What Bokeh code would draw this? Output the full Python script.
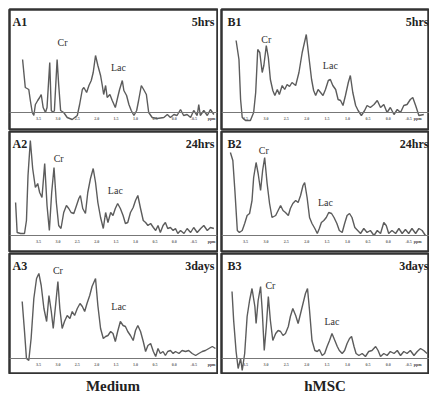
from bokeh.plotting import figure
from bokeh.layouts import column, row
from bokeh.models import Range1d, Label, Span
from bokeh.core.properties import value
from bokeh.embed import file_html
from bokeh.resources import INLINE

SERIF = "Liberation Serif"

# ---- axis ticks (chemical shift, ppm) ----
tick_values = [3.5, 3.0, 2.5, 2.0, 1.5, 1.0, 0.5, 0.0, -0.5]
tick_labels = ["3.5", "3.0", "2.5", "2.0", "1.5", "1.0", "0.5", "0.0", "-0.5"]
unit_label = "ppm"

panel_ids = ["A1", "B1", "A2", "B2", "A3", "B3"]
time_labels = ["5hrs", "5hrs", "24hrs", "24hrs", "3days", "3days"]
group_labels = ["Medium", "hMSC"]

# ---- spectra (ppm, amplitude) ----
a1_ppm = [3.91, 3.84, 3.75, 3.71, 3.66, 3.62, 3.58, 3.52, 3.47, 3.43, 3.38, 3.32, 3.28, 3.21, 3.17,
          3.12, 3.09, 3.02, 2.98, 2.93, 2.85, 2.76, 2.63, 2.50, 2.44, 2.37, 2.33, 2.26, 2.20, 2.14,
          2.09, 2.03, 1.97, 1.90, 1.86, 1.82, 1.77, 1.73, 1.66, 1.60, 1.52, 1.46, 1.41, 1.34, 1.30,
          1.23, 1.17, 1.11, 1.04, 0.97, 0.92, 0.85, 0.79, 0.72, 0.66, 0.57, 0.44, 0.27, 0.18, 0.10,
          0.01, -0.07, -0.16, -0.24, -0.33, -0.42, -0.50, -0.59, -0.63, -0.67, -0.76, -0.85, -0.93, -1.02]
a1_amp = [53, 25, 23, 12, 0, -3, 8, 12, 15, 18, 5, 0, 5, 50, 2,
          0, 2, 53, 28, 2, 0, -5, -7, -3, 8, 23, 25, 20, 27, 32,
          40, 57, 47, 37, 28, 18, 27, 15, 18, 12, 5, 15, 23, 32, 22,
          17, 8, 2, -3, 2, 12, 27, 23, 18, 0, -5, -6, -5, -2, -5,
          -2, -3, 3, -3, -2, -5, 2, -3, 8, -3, 2, -3, 3, -2]

b1_ppm = [3.73, 3.66, 3.62, 3.58, 3.50, 3.38, 3.30, 3.25, 3.20, 3.15, 3.09, 3.05, 2.99, 2.94, 2.89,
          2.83, 2.78, 2.72, 2.67, 2.60, 2.54, 2.48, 2.42, 2.36, 2.27, 2.19, 2.11, 2.01, 1.95, 1.88,
          1.83, 1.78, 1.72, 1.66, 1.60, 1.54, 1.47, 1.42, 1.36, 1.29, 1.23, 1.17, 1.11, 1.05, 0.98,
          0.93, 0.87, 0.80, 0.74, 0.66, 0.58, 0.52, 0.44, 0.35, 0.27, 0.19, 0.11, 0.03, -0.05, -0.14,
          -0.22, -0.30, -0.38, -0.46, -0.54, -0.60, -0.67, -0.75, -0.87]
b1_amp = [72, 53, 13, -5, -8, -8, 0, 20, 63, 60, 40, 47, 67, 55, 33,
          22, 17, 23, 18, 27, 23, 28, 26, 30, 27, 40, 60, 78, 57, 33,
          22, 17, 23, 20, 17, 23, 32, 33, 27, 23, 13, 12, 7, 17, 30,
          37, 20, 7, 2, -3, 2, 7, 5, 8, 12, 5, 8, 0, 5, -2,
          3, 0, 7, 8, 13, 15, 7, -3, -2]

a2_ppm = [4.09, 4.05, 3.96, 3.86, 3.81, 3.77, 3.71, 3.65, 3.58, 3.52, 3.47, 3.41, 3.34, 3.28, 3.22,
          3.16, 3.10, 3.04, 2.98, 2.92, 2.85, 2.78, 2.72, 2.66, 2.59, 2.52, 2.46, 2.42, 2.36, 2.29,
          2.23, 2.16, 2.09, 2.03, 1.97, 1.90, 1.83, 1.77, 1.71, 1.64, 1.58, 1.52, 1.46, 1.39, 1.32,
          1.26, 1.20, 1.13, 1.06, 1.00, 0.94, 0.87, 0.80, 0.74, 0.68, 0.61, 0.54, 0.48, 0.42, 0.36,
          0.29, 0.23, 0.17, 0.10, 0.03, -0.03, -0.09, -0.16, -0.25, -0.33, -0.42, -0.50, -0.59, -0.68,
          -0.76, -0.85, -0.93, -1.02]
a2_amp = [33, 3, 2, 2, 15, 60, 95, 67, 48, 52, 43, 38, 72, 30, 5,
          43, 68, 33, 10, 7, 23, 30, 27, 23, 22, 30, 37, 40, 27, 22,
          43, 57, 67, 53, 33, 18, 7, 23, 13, 23, 20, 27, 32, 27, 20,
          12, 13, 23, 28, 35, 40, 27, 15, 13, 10, 12, 8, 5, 10, 3,
          10, 13, 7, 8, 5, 7, 2, 5, 2, 7, 3, 8, 3, 7,
          10, 5, 8, 7]

b2_ppm = [3.87, 3.81, 3.76, 3.70, 3.65, 3.58, 3.52, 3.46, 3.40, 3.34, 3.30, 3.24, 3.19, 3.13, 3.08,
          3.03, 2.97, 2.91, 2.85, 2.76, 2.70, 2.64, 2.58, 2.52, 2.45, 2.40, 2.34, 2.27, 2.21, 2.15,
          2.09, 2.05, 1.99, 1.93, 1.87, 1.80, 1.74, 1.69, 1.64, 1.58, 1.52, 1.46, 1.39, 1.33, 1.26,
          1.20, 1.13, 1.07, 1.01, 0.95, 0.89, 0.82, 0.75, 0.68, 0.60, 0.52, 0.44, 0.35, 0.27, 0.19,
          0.11, 0.05, -0.01, -0.09, -0.18, -0.26, -0.34, -0.42, -0.50, -0.58, -0.67, -0.75, -0.83, -0.91]
b2_amp = [83, 75, 45, 5, 3, 5, 12, 20, 22, 35, 58, 73, 62, 45, 65,
          78, 52, 32, 18, 20, 25, 30, 25, 23, 20, 27, 32, 35, 33, 40,
          50, 53, 38, 18, 12, 7, 2, 7, 13, 15, 18, 23, 22, 18, 12,
          5, 3, 12, 20, 22, 18, 8, 5, 2, 7, 3, 5, 0, 5, 2,
          13, 10, 2, 5, 2, 7, 2, 6, 2, 7, 2, 7, 5, 0]

a3_ppm = [3.92, 3.86, 3.81, 3.75, 3.69, 3.62, 3.55, 3.49, 3.43, 3.36, 3.29, 3.23, 3.17, 3.12, 3.06,
          3.00, 2.95, 2.89, 2.83, 2.76, 2.69, 2.63, 2.57, 2.50, 2.43, 2.37, 2.31, 2.25, 2.18, 2.12,
          2.03, 1.97, 1.90, 1.83, 1.77, 1.71, 1.64, 1.58, 1.52, 1.46, 1.39, 1.32, 1.26, 1.20, 1.13,
          1.06, 1.00, 0.94, 0.87, 0.80, 0.74, 0.68, 0.61, 0.54, 0.48, 0.42, 0.36, 0.29, 0.23, 0.17,
          0.10, 0.03, -0.03, -0.12, -0.20, -0.29, -0.37, -0.46, -0.55, -0.63, -0.72, -0.80, -0.89, -0.98, -1.06]
a3_amp = [57, 27, 0, -2, 20, 60, 80, 85, 73, 50, 37, 63, 47, 30, 53,
          77, 50, 30, 37, 43, 40, 47, 43, 50, 55, 52, 47, 55, 63, 72,
          80, 53, 30, 20, 22, 23, 27, 25, 17, 27, 37, 33, 32, 27, 23,
          18, 28, 33, 27, 17, 7, 13, 15, 7, 2, 10, 5, 7, 3, 7,
          8, 5, 7, 5, 8, 7, 8, 5, 3, 5, 7, 8, 10, 12, 10]

b3_ppm = [3.83, 3.79, 3.73, 3.68, 3.62, 3.58, 3.52, 3.46, 3.40, 3.34, 3.27, 3.24, 3.19, 3.13, 3.09,
          3.04, 2.99, 2.94, 2.89, 2.83, 2.76, 2.70, 2.64, 2.58, 2.52, 2.45, 2.40, 2.34, 2.27, 2.21,
          2.15, 2.09, 2.03, 1.98, 1.93, 1.87, 1.80, 1.74, 1.69, 1.62, 1.56, 1.50, 1.44, 1.38, 1.31,
          1.25, 1.20, 1.13, 1.07, 1.01, 0.95, 0.90, 0.84, 0.79, 0.72, 0.64, 0.56, 0.48, 0.40, 0.31,
          0.25, 0.19, 0.11, 0.03, -0.05, -0.14, -0.22, -0.30, -0.38, -0.46, -0.54, -0.63, -0.71, -0.79,
          -0.87, -0.95]
b3_amp = [67, 38, 7, -10, 0, -12, 5, 42, 58, 70, 52, 35, 58, 72, 48,
          8, 32, 62, 38, 18, 25, 28, 27, 23, 25, 32, 42, 50, 43, 35,
          45, 55, 65, 70, 48, 18, 8, 7, 9, 3, 5, 12, 18, 25, 18,
          12, 8, 5, 8, 15, 20, 22, 12, 5, 3, 5, 2, 7, 8, 12,
          8, 2, 5, 3, 7, 5, 8, 3, 7, 5, 8, 3, 7, 10,
          8, 5]

spectra = {
    "A1": (a1_ppm, a1_amp), "B1": (b1_ppm, b1_amp),
    "A2": (a2_ppm, a2_amp), "B2": (b2_ppm, b2_amp),
    "A3": (a3_ppm, a3_amp), "B3": (b3_ppm, b3_amp),
}

# peak annotation anchors (ppm, amplitude), order A1,B1,A2,B2,A3,B3
cr_x = [2.88, 2.99, 2.98, 3.05, 3.00, 2.89]
cr_y = [70, 73, 77, 85, 88, 73]
lac_x = [1.44, 1.42, 1.52, 1.54, 1.43, 1.38]
lac_y = [45, 47, 45, 33, 52, 37]

# ---- layout / style ----
col_x_ranges = [(4.247, -1.113), (4.088, -1.010)]
row_y_ranges = [(-17, 103), (-16, 104), (-15, 105)]
col_widths = [218, 211]
col_min_left = [9, 3]
col_min_right = [1, 0]
row_heights = [130, 122, 122]
row_min_top = [9, 1, 1]
caption_height = 25
ppm_label_x = [-0.96, -0.72]
id_x = [3, 6]
time_x = [205, 207]
BORDER = "#333333"
TRACE = "#5c5c5c"


def make_panel(r, c):
    idx = r * 2 + c
    pid = panel_ids[idx]
    ppm, amp = spectra[pid]
    p = figure(width=col_widths[c], height=row_heights[r],
               x_range=Range1d(*col_x_ranges[c]), y_range=Range1d(*row_y_ranges[r]),
               x_axis_location=None, y_axis_location=None,
               toolbar_location=None, output_backend="svg",
               min_border_left=col_min_left[c], min_border_right=col_min_right[c],
               min_border_top=row_min_top[r], min_border_bottom=1)
    p.grid.visible = False
    p.outline_line_color = BORDER
    p.outline_line_width = 2.5
    p.border_fill_color = "white"
    p.background_fill_color = "white"

    p.add_layout(Span(location=0, dimension="width", line_color="#777777", line_width=1))
    p.text(x=tick_values, y=[-6] * len(tick_values), text=tick_labels,
           text_font=value(SERIF), text_font_size="4px", text_font_style="bold",
           text_align="center", text_baseline="middle", text_color="#666666")
    p.add_layout(Label(x=ppm_label_x[c], y=-6, text=unit_label, text_font=SERIF,
                       text_font_size="4px", text_font_style="bold", text_color="#444444",
                       text_align="center", text_baseline="middle"))

    p.line(ppm, amp, line_color=TRACE, line_width=1.4)

    p.add_layout(Label(x=cr_x[idx], y=cr_y[idx], text="Cr", text_font=SERIF,
                       text_font_size="10px", text_color="#333333",
                       text_align="center", text_baseline="middle"))
    p.add_layout(Label(x=lac_x[idx], y=lac_y[idx], text="Lac", text_font=SERIF,
                       text_font_size="10px", text_color="#333333",
                       text_align="center", text_baseline="middle"))

    p.add_layout(Label(x=id_x[c], y=108, x_units="screen", y_units="screen", text=pid,
                       text_font=SERIF, text_font_style="bold", text_font_size="12px",
                       text_color="#222222", text_align="left", text_baseline="middle"))
    p.add_layout(Label(x=time_x[c], y=108, x_units="screen", y_units="screen",
                       text=time_labels[idx], text_font=SERIF, text_font_style="bold",
                       text_font_size="12px", text_color="#222222",
                       text_align="right", text_baseline="middle"))
    return p


def make_caption(c):
    p = figure(width=col_widths[c], height=caption_height,
               x_range=Range1d(0, 1), y_range=Range1d(0, 1),
               x_axis_location=None, y_axis_location=None, toolbar_location=None,
               output_backend="svg", min_border=0,
               min_border_left=col_min_left[c] - 1, min_border_right=col_min_right[c])
    p.grid.visible = False
    p.outline_line_color = None
    p.add_layout(Label(x=0.5, y=0.55, text=group_labels[c], text_font=SERIF,
                       text_font_style="bold", text_font_size="15px", text_color="#222222",
                       text_align="center", text_baseline="middle"))
    return p


rows = [row(make_panel(r, 0), make_panel(r, 1)) for r in range(3)]
rows.append(row(make_caption(0), make_caption(1)))
layout = column(*rows)

open("out.html", "w").write(file_html(layout, INLINE))
